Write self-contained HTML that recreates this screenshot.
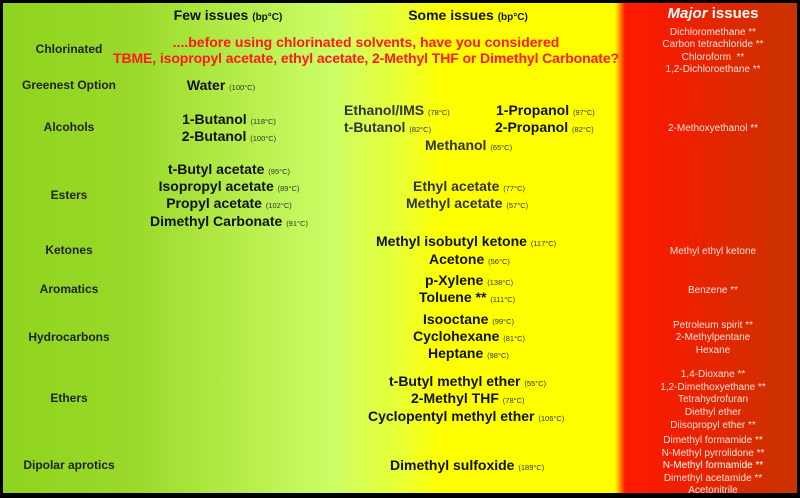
<!DOCTYPE html>
<html><head><meta charset="utf-8"><style>
body{margin:0;width:800px;height:498px;overflow:hidden;}
#c{position:relative;width:800px;height:498px;box-sizing:border-box;border:3px solid #000;border-bottom-width:5px;
background:linear-gradient(to right,#8fd41e 0px,#9ad92a 130px,#ccfe66 330px,#eaff30 400px,#ffff00 440px,#ffff00 612px,#ff1a00 622px,#f51c00 660px,#c83400 795px);font-family:"Liberation Sans",Arial,sans-serif;}
.t{position:absolute;white-space:nowrap;line-height:16px;}
.c{width:600px;text-align:center;}
.m{font-weight:bold;font-size:14px;color:#111;}
.m small{font-size:7.5px;font-weight:normal;color:#333;}
.g{color:#333;}
.l{font-weight:bold;font-size:12px;color:#222;width:132px;left:0;text-align:center;}
.r{font-size:10px;color:#ffe0d8;width:180px;left:620px;text-align:center;line-height:12px;}
.red{font-weight:bold;font-size:14px;color:#ff1a1a;}
</style></head><body><div id="c">
<div class="t c m" style="left:-75px;top:4px">Few issues <small style="font-size:10px;font-weight:bold;color:#111">(bp°C)</small></div>
<div class="t c m" style="left:165px;top:4px">Some issues <small style="font-size:10px;font-weight:bold;color:#111">(bp°C)</small></div>
<div class="t" style="left:620px;width:180px;text-align:center;top:3px;color:#fff;font-weight:bold;font-size:15px"><i>Major</i> issues</div>

<div class="t l" style="top:38px">Chlorinated</div>
<div class="t c red" style="left:63px;top:31px">....before using chlorinated solvents, have you considered</div>
<div class="t c red" style="left:63px;top:47px;letter-spacing:-0.1px">TBME, isopropyl acetate, ethyl acetate, 2-Methyl THF or Dimethyl Carbonate?</div>
<div class="t r" style="top:24px">Dichloromethane **</div>
<div class="t r" style="top:36px">Carbon tetrachloride **</div>
<div class="t r" style="top:49px">Chloroform &nbsp;**</div>
<div class="t r" style="top:61px">1,2-Dichloroethane **</div>

<div class="t l" style="top:74px">Greenest Option</div>
<div class="t c m" style="left:-82px;top:74px">Water <small>(100°C)</small></div>

<div class="t l" style="top:116px">Alcohols</div>
<div class="t c m" style="left:-74px;top:108px">1-Butanol <small>(118°C)</small></div>
<div class="t c m" style="left:-74px;top:125px">2-Butanol <small>(100°C)</small></div>
<div class="t m g" style="left:341px;top:99px">Ethanol/IMS <small>(78°C)</small></div>
<div class="t m g" style="left:341px;top:116px">t-Butanol <small>(82°C)</small></div>
<div class="t m" style="left:493px;top:99px">1-Propanol <small>(97°C)</small></div>
<div class="t m" style="left:492px;top:116px">2-Propanol <small>(82°C)</small></div>
<div class="t m g" style="left:422px;top:134px">Methanol <small>(65°C)</small></div>
<div class="t r" style="top:120px">2-Methoxyethanol **</div>

<div class="t l" style="top:184px">Esters</div>
<div class="t c m" style="left:-74px;top:158px">t-Butyl acetate <small>(95°C)</small></div>
<div class="t c m" style="left:-74px;top:175px">Isopropyl acetate <small>(89°C)</small></div>
<div class="t c m" style="left:-74px;top:192px">Propyl acetate <small>(102°C)</small></div>
<div class="t c m" style="left:-74px;top:210px">Dimethyl Carbonate <small>(91°C)</small></div>
<div class="t m g" style="left:410px;top:175px">Ethyl acetate <small>(77°C)</small></div>
<div class="t m g" style="left:403px;top:192px">Methyl acetate <small>(57°C)</small></div>

<div class="t l" style="top:239px">Ketones</div>
<div class="t m" style="left:373px;top:230px">Methyl isobutyl ketone <small>(117°C)</small></div>
<div class="t m" style="left:426px;top:248px">Acetone <small>(56°C)</small></div>
<div class="t r" style="top:243px">Methyl ethyl ketone</div>

<div class="t l" style="top:278px">Aromatics</div>
<div class="t m" style="left:422px;top:269px">p-Xylene <small>(138°C)</small></div>
<div class="t m" style="left:416px;top:286px">Toluene ** <small>(111°C)</small></div>
<div class="t r" style="top:282px">Benzene **</div>

<div class="t l" style="top:326px">Hydrocarbons</div>
<div class="t m" style="left:420px;top:308px">Isooctane <small>(99°C)</small></div>
<div class="t m" style="left:410px;top:325px">Cyclohexane <small>(81°C)</small></div>
<div class="t m" style="left:425px;top:342px">Heptane <small>(98°C)</small></div>
<div class="t r" style="top:317px">Petroleum spirit **</div>
<div class="t r" style="top:329px">2-Methylpentane</div>
<div class="t r" style="top:342px">Hexane</div>

<div class="t l" style="top:387px">Ethers</div>
<div class="t m" style="left:386px;top:370px">t-Butyl methyl ether <small>(55°C)</small></div>
<div class="t m" style="left:408px;top:387px">2-Methyl THF <small>(78°C)</small></div>
<div class="t m" style="left:365px;top:405px">Cyclopentyl methyl ether <small>(106°C)</small></div>
<div class="t r" style="top:366px">1,4-Dioxane **</div>
<div class="t r" style="top:379px">1,2-Dimethoxyethane **</div>
<div class="t r" style="top:391px">Tetrahydrofuran</div>
<div class="t r" style="top:404px">Diethyl ether</div>
<div class="t r" style="top:417px">Diisopropyl ether **</div>

<div class="t l" style="top:454px">Dipolar aprotics</div>
<div class="t m" style="left:387px;top:454px">Dimethyl sulfoxide <small>(189°C)</small></div>
<div class="t r" style="top:432px">Dimethyl formamide **</div>
<div class="t r" style="top:445px">N-Methyl pyrrolidone **</div>
<div class="t r" style="top:457px;color:#fff">N-Methyl formamide **</div>
<div class="t r" style="top:470px">Dimethyl acetamide **</div>
<div class="t r" style="top:482px">Acetonitrile</div>
</div></body></html>
